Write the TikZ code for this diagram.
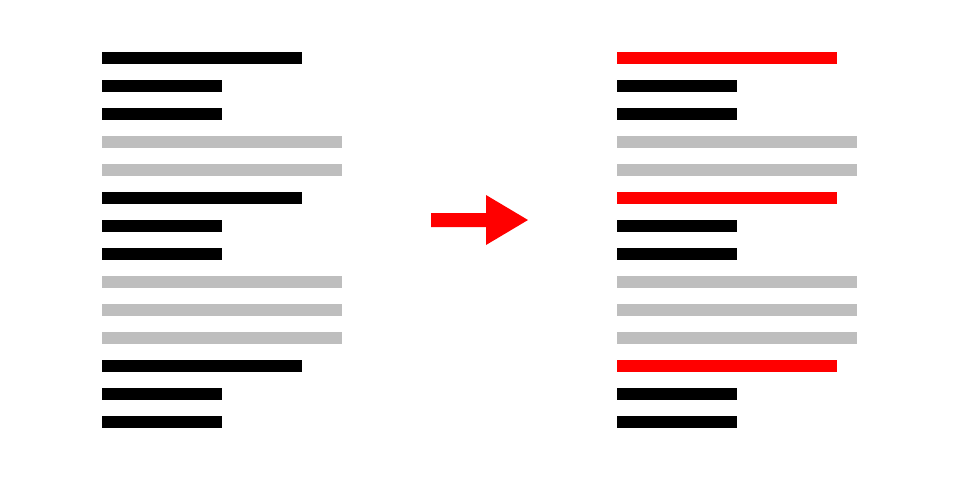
\documentclass[tikz,border=0pt]{standalone}
\usepackage{tikz}
\definecolor{lightbar}{RGB}{190,190,190}
\tikzstyle{bar} = [
    fill=black,
    draw=none
]
\tikzstyle{greybar} = [
    bar,
    fill=lightbar
]
\tikzstyle{redbar} = [
    bar,
    fill=red
]
\tikzstyle{bigarrow} = [
    fill=red,
    draw=none
]

\begin{document}
\begin{tikzpicture}[x=1pt, y=-1pt]

    % Canvas
    \useasboundingbox (0,0) rectangle (960,480);

    % Rows: 0 = long, 1 = short, 2 = grey
    \foreach \kind [count=\i from 0] in {0,1,1,2,2,0,1,1,2,2,2,0,1,1} {
        \pgfmathsetmacro{\top}{52+28*\i}
        % Left and right column
        \ifcase\kind
            \fill[bar] (102,\top) rectangle ++(200,12);
            \fill[redbar] (617,\top) rectangle ++(220,12);
        \or
            \fill[bar] (102,\top) rectangle ++(120,12);
            \fill[bar] (617,\top) rectangle ++(120,12);
        \or
            \fill[greybar] (102,\top) rectangle ++(240,12);
            \fill[greybar] (617,\top) rectangle ++(240,12);
        \fi
    }

    % Arrow
    \fill[bigarrow] (431,213) -- (486,213) -- (486,195) -- (528,220)
        -- (486,245) -- (486,227) -- (431,227) -- cycle;

\end{tikzpicture}
\end{document}
